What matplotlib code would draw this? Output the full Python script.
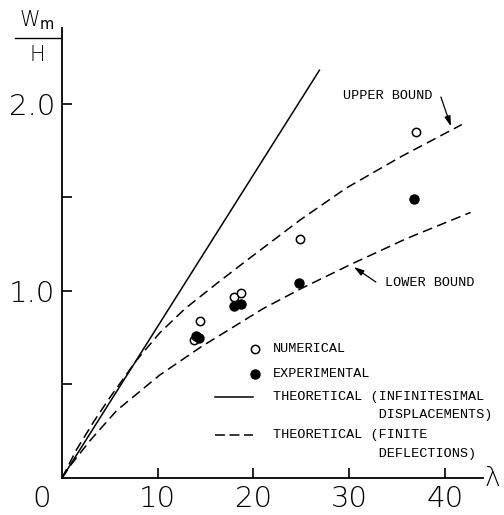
"""Deflection ratio W_m/H against lambda: numerical, experimental and theoretical curves."""

import numpy as np
import matplotlib
matplotlib.use('Agg')
import matplotlib.pyplot as plt
from matplotlib.lines import Line2D

# --- data ---
num_lam = [13.8, 14.4, 18.0, 18.7, 24.9, 37.0]
num_w = [0.74, 0.84, 0.97, 0.99, 1.28, 1.85]

exp_lam = [14.0, 14.3, 18.0, 18.7, 24.8, 36.8]
exp_w = [0.76, 0.75, 0.92, 0.93, 1.04, 1.49]

# theoretical, infinitesimal displacements (straight line)
inf_lam = [0.0, 26.9]
inf_w = [0.0, 2.18]

# theoretical, finite deflections: upper and lower bounds
upper_lam = [0.0, 1.5, 3.3, 5.0, 7.8, 10.2, 12.85, 16.3, 19.6, 24.9, 29.7, 35.5, 41.8]
upper_w = [0.0, 0.15, 0.30, 0.43, 0.63, 0.775, 0.905, 1.045, 1.175, 1.38, 1.55, 1.72, 1.89]
lower_lam = [0.0, 1.0, 2.93, 5.7, 10.2, 14.5, 21.0, 25.0, 30.1, 36.0, 42.7]
lower_w = [0.0, 0.075, 0.20, 0.36, 0.55, 0.70, 0.905, 1.013, 1.14, 1.28, 1.42]

xticks = [10, 20, 30, 40]
xticklabels = ['10', '20', '30', '40']
yticks = [0.5, 1.0, 1.5, 2.0]
yticklabels = ['', '1.0', '', '2.0']

W, H = 504, 515
fig = plt.figure(figsize=(W / 100, H / 100), dpi=100)
ax = fig.add_axes([62 / W, 37 / H, 421 / W, 450 / H])
ax.set_xlim(0, 44)
ax.set_ylim(0, 2.406)

for side in ('top', 'right'):
    ax.spines[side].set_visible(False)
for side in ('left', 'bottom'):
    ax.spines[side].set_linewidth(1.3)

tick_font = dict(family='DejaVu Sans', weight='light', size=21)
mono = dict(family='Liberation Mono', size=9.7)
dash = (0, (6.5, 3.5))

ax.set_xticks(xticks)
ax.set_xticklabels(xticklabels, fontdict=tick_font)
ax.set_yticks(yticks)
ax.set_yticklabels(yticklabels, fontdict=tick_font)
ax.tick_params(axis='x', direction='in', length=7, width=1.2, pad=5)
ax.tick_params(axis='y', direction='in', length=7, width=1.2, pad=5)
ax.text(-2.1, -0.035, '0', ha='center', va='top', **tick_font)

# curves
ax.plot(inf_lam, inf_w, color='black', lw=1.1, clip_on=False)
ax.plot(upper_lam, upper_w, color='black', lw=1.1, linestyle=dash, clip_on=False)
ax.plot(lower_lam, lower_w, color='black', lw=1.1, linestyle=dash, clip_on=False)

# points
ax.plot(num_lam, num_w, 'o', ms=6, mfc='white', mec='black', mew=1.1, zorder=3)
ax.plot(exp_lam, exp_w, 'o', ms=6.5, mfc='black', mec='black', zorder=4)

# bound labels with separate arrows
arrow = dict(arrowstyle='-|>,head_length=0.6,head_width=0.18',
             color='black', lw=0.9, shrinkA=0, shrinkB=0)
ax.text(34.06, 2.043, 'UPPER BOUND', ha='center', va='center', **mono)
ax.annotate('', xy=(40.65, 1.88), xytext=(39.6, 2.037), arrowprops=arrow)
ax.text(33.75, 1.043, 'LOWER BOUND', ha='left', va='center', **mono)
ax.annotate('', xy=(30.5, 1.128), xytext=(32.8, 1.048), arrowprops=arrow)


# legend drawn in figure pixels (top-left origin)
def fx(px):
    return px / W


def fy(py):
    return 1 - py / H


fig.add_artist(Line2D([fx(255)], [fy(349)], marker='o', ms=6, mfc='white',
                      mec='black', mew=1.1))
fig.add_artist(Line2D([fx(255)], [fy(374)], marker='o', ms=6.5, mfc='black',
                      mec='black'))
fig.add_artist(Line2D([fx(215), fx(253)], [fy(397), fy(397)], color='black', lw=1.1))
fig.add_artist(Line2D([fx(215), fx(253)], [fy(435), fy(435)], color='black', lw=1.1,
                      linestyle=(0, (6.5, 3))))
legend_rows = [
    (349, 'NUMERICAL'),
    (374, 'EXPERIMENTAL'),
    (397, 'THEORETICAL (INFINITESIMAL'),
    (415, '             DISPLACEMENTS)'),
    (435, 'THEORETICAL (FINITE'),
    (454, '             DEFLECTIONS)'),
]
for py, label in legend_rows:
    fig.text(fx(273), fy(py), label, ha='left', va='center', **mono)

# axis labels
fig.text(fx(492), fy(479), 'λ', ha='center', va='center',
         family='DejaVu Sans', weight='light', size=19)
fig.text(fx(37), fy(20), r'W$_{\mathrm{m}}$', ha='center', va='center',
         family='DejaVu Sans', weight='light', size=15)
fig.add_artist(Line2D([fx(15), fx(60)], [fy(38), fy(38)], color='black', lw=1.0))
fig.text(fx(37), fy(55), 'H', ha='center', va='center',
         family='DejaVu Sans', weight='light', size=15)

fig.savefig('out.png', dpi=100)
plt.close(fig)
